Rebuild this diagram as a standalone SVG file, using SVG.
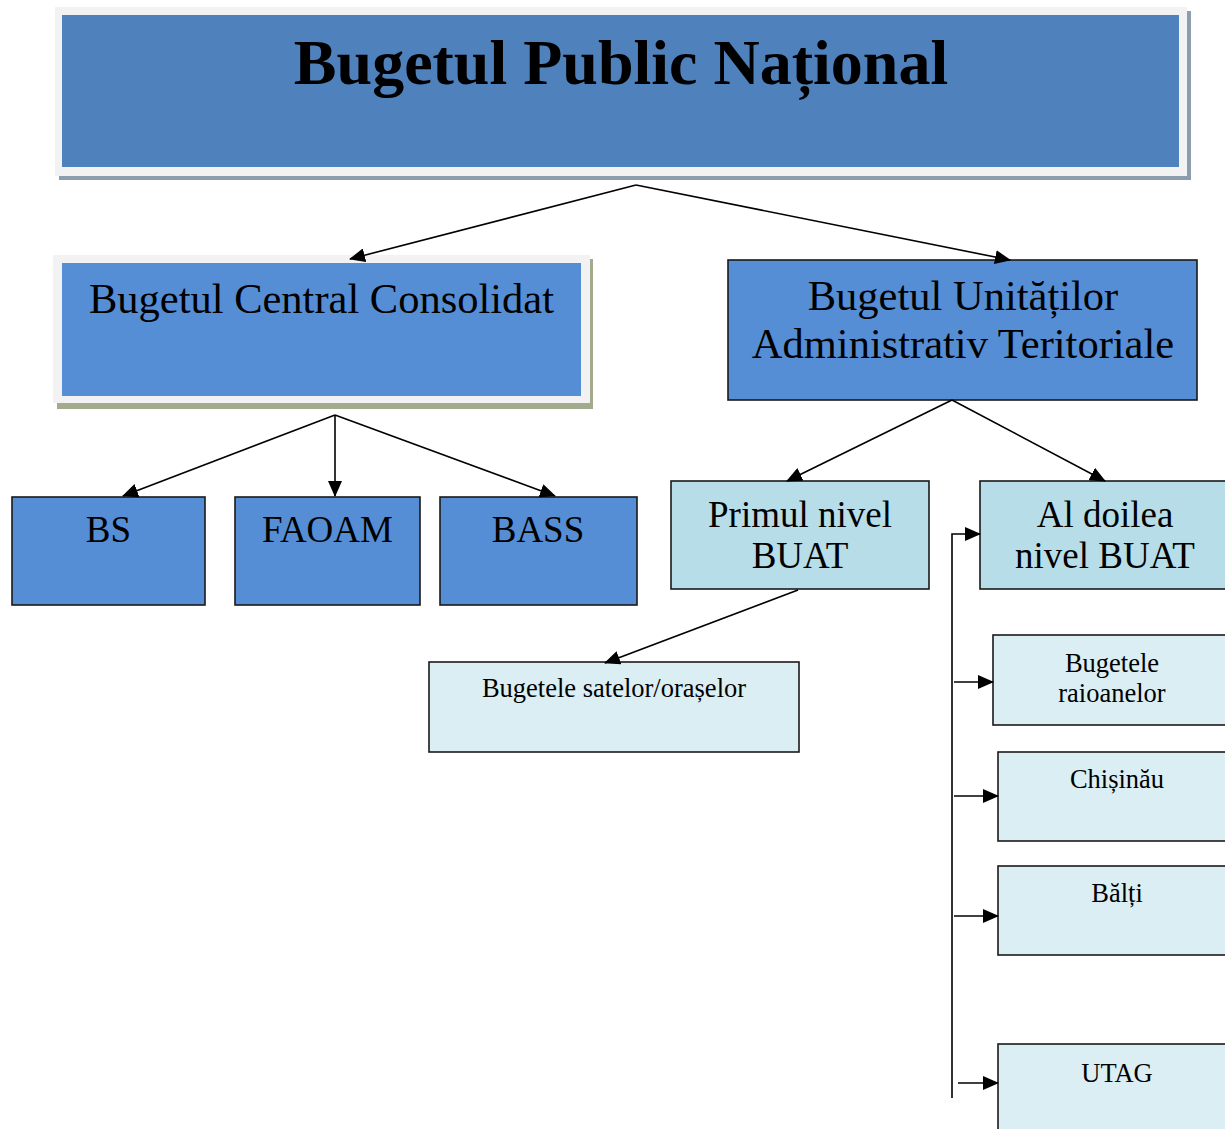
<svg xmlns="http://www.w3.org/2000/svg" width="1225" height="1129" viewBox="0 0 1225 1129">
<style>
text{font-family:"Liberation Serif","Times New Roman",serif;fill:#000;text-anchor:middle}
.box{stroke:#1a1a1a;stroke-width:1.6}
.mid{fill:#558ed5}
.lt{fill:#b7dde8}
.xl{fill:#daeef3}
.frame{fill:#f2f2f2}
.conn line,.conn path{stroke:#000;stroke-width:1.6;fill:none;marker-end:url(#ah)}
</style>
<defs>
<marker id="ah" markerUnits="userSpaceOnUse" markerWidth="16" markerHeight="14" viewBox="0 0 16 14" refX="15" refY="7" orient="auto">
<path d="M0,0 L16,7 L0,14 Z" fill="#000"/>
</marker>
</defs>
<rect width="1225" height="1129" fill="#fff"/>
<g id="n-bpn">
<rect x="59" y="11" width="1132" height="169" fill="#8c9db0"/>
<rect class="frame" x="55" y="7" width="1132" height="169"/>
<rect x="62" y="15" width="1117" height="152" fill="#4f81bd"/>
<text x="621" y="84" font-size="64" font-weight="bold">Bugetul Public Național</text>
</g>
<g id="n-bcc">
<rect x="57" y="259" width="536" height="150" fill="#a3ab8f"/>
<rect class="frame" x="53" y="255" width="537" height="148"/>
<rect class="mid" x="62" y="263" width="519" height="133"/>
<text x="321.5" y="313" font-size="42.5">Bugetul Central Consolidat</text>
</g>
<g id="n-buat">
<rect class="box mid" x="728" y="260" width="469" height="140"/>
<text x="963" y="310" font-size="42.5">Bugetul Unităților</text>
<text x="963" y="358" font-size="42.5">Administrativ Teritoriale</text>
</g>
<g id="n-bs">
<rect class="box mid" x="12" y="497" width="193" height="108"/>
<text x="108.5" y="542" font-size="37">BS</text>
</g>
<g id="n-faoam">
<rect class="box mid" x="235" y="497" width="185" height="108"/>
<text x="327.5" y="542" font-size="37">FAOAM</text>
</g>
<g id="n-bass">
<rect class="box mid" x="440" y="497" width="197" height="108"/>
<text x="538" y="542" font-size="37">BASS</text>
</g>
<g id="n-primul">
<rect class="box lt" x="671" y="481" width="258" height="108"/>
<text x="800" y="527" font-size="37">Primul nivel</text>
<text x="800" y="568" font-size="37">BUAT</text>
</g>
<g id="n-aldoilea">
<rect class="box lt" x="980" y="481" width="260" height="108"/>
<text x="1105" y="527" font-size="37">Al doilea</text>
<text x="1105" y="568" font-size="37">nivel BUAT</text>
</g>
<g id="n-sate">
<rect class="box xl" x="429" y="662" width="370" height="90"/>
<text x="614" y="697" font-size="26.5">Bugetele satelor/orașelor</text>
</g>
<g id="n-raioane">
<rect class="box xl" x="993" y="635" width="247" height="90"/>
<text x="1112" y="672" font-size="26.5">Bugetele</text>
<text x="1112" y="702" font-size="26.5">raioanelor</text>
</g>
<g id="n-chisinau">
<rect class="box xl" x="998" y="752" width="242" height="89"/>
<text x="1117" y="788" font-size="26.5">Chișinău</text>
</g>
<g id="n-balti">
<rect class="box xl" x="998" y="866" width="242" height="89"/>
<text x="1117" y="902" font-size="26.5">Bălți</text>
</g>
<g id="n-utag">
<rect class="box xl" x="998" y="1044" width="242" height="100"/>
<text x="1117" y="1082" font-size="26.5">UTAG</text>
</g>
<g id="connectors" class="conn">
<line x1="636" y1="185" x2="350" y2="259"/>
<line x1="636" y1="185" x2="1010" y2="260"/>
<line x1="335" y1="415" x2="123" y2="496"/>
<line x1="335" y1="415" x2="335" y2="496"/>
<line x1="335" y1="415" x2="555" y2="496"/>
<line x1="952" y1="400" x2="787" y2="481"/>
<line x1="952" y1="400" x2="1105" y2="481"/>
<line x1="798" y1="590" x2="605" y2="663"/>
<path d="M952,1098 V534 H980"/>
<line x1="954" y1="682" x2="993" y2="682"/>
<line x1="954" y1="796" x2="998" y2="796"/>
<line x1="954" y1="916" x2="998" y2="916"/>
<line x1="958" y1="1083" x2="998" y2="1083"/>
</g>
</svg>
